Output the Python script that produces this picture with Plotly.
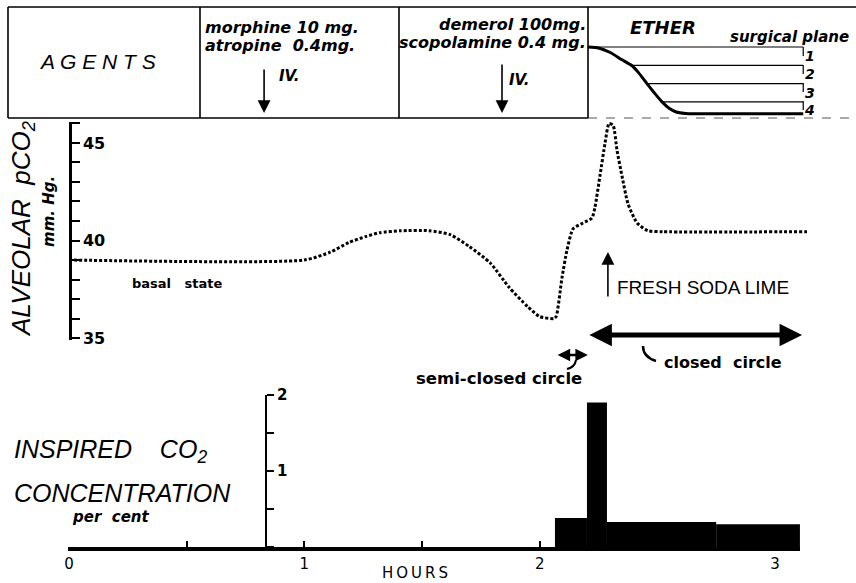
import plotly.graph_objects as go
import numpy as np

W, H = 856, 583
PXH = 235.33          # pixels per hour
X0 = 69               # pixel of hour 0


def PX(p):
    return p / W


def PY(p):
    return 1 - p / H


# ---------------- data ----------------
hours_pco2 = [0.0, 1.00, 1.11, 1.19, 1.26, 1.32, 1.41, 1.53, 1.62, 1.70, 1.79, 1.87,
              1.95, 2.00, 2.06, 2.07, 2.095, 2.116, 2.142, 2.184, 2.222, 2.235, 2.256,
              2.278, 2.295, 2.312, 2.329, 2.350, 2.375, 2.414, 2.460, 2.524, 3.136]
pco2_mmHg = [39.0, 39.0, 39.4, 39.9, 40.2, 40.4, 40.5, 40.5, 40.3, 39.7, 38.85, 37.6,
             36.6, 36.1, 36.0, 36.1, 38.1, 39.5, 40.6, 40.9, 41.15, 41.7, 43.3,
             45.0, 46.0, 45.9, 44.6, 43.3, 41.9, 40.9, 40.5, 40.45, 40.45]

bar_start_h = [2.065, 2.201, 2.286, 2.75]
bar_end_h = [2.201, 2.286, 2.75, 3.106]
inspired_co2_pct = [0.38, 1.9, 0.33, 0.30]

ether_hours = [2.205, 2.25, 2.30, 2.35, 2.39, 2.42, 2.456, 2.49, 2.52, 2.55, 2.58, 2.62, 2.66, 3.12]
ether_depth = [0, 0.05, 0.3, 0.7, 1.0, 1.4, 2.0, 2.55, 3.0, 3.35, 3.55, 3.63, 3.65, 3.65]
plane_bounds = [0, 1, 2, 3]
plane_labels = ["1", "2", "3", "4"]
plane_label_depth = [0.5, 1.5, 2.5, 3.45]

hour_ticks = [0, 1, 2, 3]
pco2_ticks = [35, 40, 45]
co2_ticks = [1, 2]

morphine_h = 0.829
demerol_h = 1.84
soda_lime_h = 2.29
semi_closed_h = [2.07, 2.205]
closed_h = [2.205, 3.115]

# ---------------- figure ----------------
fig = go.Figure()

fig.add_trace(go.Scatter(
    x=hours_pco2, y=pco2_mmHg, xaxis="x2", yaxis="y", mode="lines",
    line=dict(color="black", width=3, dash="3px,2px", shape="spline", smoothing=0.6),
    hoverinfo="skip"))

fig.add_trace(go.Bar(
    x=[(s + e) / 2 for s, e in zip(bar_start_h, bar_end_h)],
    width=[e - s for s, e in zip(bar_start_h, bar_end_h)],
    y=inspired_co2_pct, xaxis="x", yaxis="y2",
    marker=dict(color="black", line=dict(width=0)), hoverinfo="skip"))

fig.add_trace(go.Scatter(
    x=ether_hours, y=ether_depth, xaxis="x2", yaxis="y3", mode="lines",
    line=dict(color="black", width=3, shape="spline", smoothing=0.5),
    hoverinfo="skip"))

shapes = []
line_end_h = ether_hours[-1]
for d in plane_bounds:
    start = float(np.interp(d, ether_depth, ether_hours))
    shapes.append(dict(type="line", xref="x2", yref="y3", x0=start, x1=line_end_h,
                       y0=d, y1=d, line=dict(color="black", width=1.2)))
shapes.append(dict(type="line", xref="x2", yref="y3", x0=line_end_h, x1=line_end_h,
                   y0=0, y1=3.88, line=dict(color="black", width=1.2, dash="dash")))

# box of the agents panel
bl = dict(color="black", width=1.6)
shapes += [
    dict(type="line", xref="paper", yref="paper", x0=PX(8), x1=PX(856), y0=PY(7), y1=PY(7), line=bl),
    dict(type="line", xref="paper", yref="paper", x0=PX(8), x1=PX(588), y0=PY(118), y1=PY(118), line=bl),
    dict(type="line", xref="paper", yref="paper", x0=PX(588), x1=PX(856), y0=PY(118), y1=PY(118),
         line=dict(color="#555", width=1, dash="dash")),
]
for xv in [8, 200, 399, 588]:
    shapes.append(dict(type="line", xref="paper", yref="paper", x0=PX(xv), x1=PX(xv),
                       y0=PY(7), y1=PY(118), line=bl))

# small hooks
shapes.append(dict(type="path", xref="paper", yref="paper",
                   path=f"M {PX(643)} {PY(346)} Q {PX(643)} {PY(357)} {PX(656)} {PY(361)}",
                   line=dict(color="black", width=2.5)))
shapes.append(dict(type="path", xref="paper", yref="paper",
                   path=f"M {PX(576)} {PY(360)} Q {PX(575)} {PY(367)} {PX(567)} {PY(369)}",
                   line=dict(color="black", width=2)))

BI = "DejaVu Sans"
LS = "Liberation Sans"
ann = []


def txt(text, x, y, size, family=LS, xanchor="left", angle=0):
    ann.append(dict(text=text, x=PX(x), y=PY(y), xref="paper", yref="paper",
                    xanchor=xanchor, yanchor="middle", showarrow=False, textangle=angle,
                    font=dict(family=family, size=size, color="black")))


NB = "\u00a0"
txt("<i>A G E N T S</i>", 97, 61, 21, xanchor="center")
txt("<b><i>morphine 10 mg.</i></b>", 203, 28, 16, BI)
txt(f"<b><i>atropine{NB}{NB}0.4mg.</i></b>", 203, 45, 16, BI)
txt("<b><i>IV.</i></b>", 277, 76, 15, BI)
txt("<b><i>demerol 100mg.</i></b>", 588, 25, 16, BI, xanchor="right")
txt("<b><i>scopolamine 0.4 mg.</i></b>", 588, 43, 16, BI, xanchor="right")
txt("<b><i>IV.</i></b>", 507, 80, 15, BI)
txt("<b><i>ETHER</i></b>", 628, 28, 18, BI)
txt("<b><i>surgical plane</i></b>", 851, 37, 15, BI, xanchor="right")
for lab, d in zip(plane_labels, plane_label_depth):
    ann.append(dict(text=f"<b><i>{lab}</i></b>", x=3.148, xref="x2", y=d, yref="y3",
                    xanchor="center", yanchor="middle", showarrow=False,
                    font=dict(family=BI, size=14, color="black")))

txt(f"<i>ALVEOLAR{NB}{NB}pCO<sub>2</sub></i>", 22, 229, 26, xanchor="center", angle=-90)
txt("<b><i>mm. Hg.</i></b>", 49, 212, 15, BI, xanchor="center", angle=-90)
txt(f"<b>basal{NB}{NB}{NB}state</b>", 130, 283, 13, BI)
txt("FRESH SODA LIME", 615, 287, 19)
txt(f"<b>closed{NB}{NB}circle</b>", 662, 362, 16, BI)
txt("<b>semi-closed circle</b>", 414, 378, 16.5, BI)
txt(f"<i>INSPIRED{NB}{NB}{NB}{NB}CO<sub>2</sub></i>", 12, 451, 25)
txt("<i>CONCENTRATION</i>", 12, 493, 25)
txt(f"<b><i>per{NB}{NB}cent</i></b>", 70, 517, 15, BI)
txt("H\u2009O\u2009U\u2009R\u2009S", 415, 573, 15, BI, xanchor="center")

# arrows
for h, head, tail in [(morphine_h, 113, 68), (demerol_h, 113, 63)]:
    ann.append(dict(text="", x=h, xref="x2", y=PY(head), yref="paper", ax=0, ay=tail - head,
                    showarrow=True, arrowhead=2, arrowsize=1.6, arrowwidth=1.6, arrowcolor="black"))
ann.append(dict(text="", x=soda_lime_h, xref="x2", y=PY(252), yref="paper", ax=0, ay=46,
                showarrow=True, arrowhead=2, arrowsize=1.6, arrowwidth=1.6, arrowcolor="black"))
ann.append(dict(text="", x=closed_h[1], xref="x2", ax=closed_h[0], axref="x2",
                y=PY(335), yref="paper", ay=0, ayref="pixel",
                showarrow=True, arrowhead=2, arrowside="end+start", arrowsize=0.9,
                arrowwidth=5, arrowcolor="black"))
ann.append(dict(text="", x=semi_closed_h[1], xref="x2", ax=semi_closed_h[0], axref="x2",
                y=PY(355), yref="paper", ay=0, ayref="pixel",
                showarrow=True, arrowhead=2, arrowside="end+start", arrowsize=1.0,
                arrowwidth=2.5, arrowcolor="black"))

tickfont_b = dict(family=BI, size=16, color="black", weight="bold")

fig.update_layout(
    width=W, height=H, margin=dict(l=0, r=0, t=0, b=0),
    paper_bgcolor="white", plot_bgcolor="rgba(0,0,0,0)", showlegend=False,
    shapes=shapes, annotations=ann,
    xaxis=dict(domain=[PX(68), PX(800)], range=[-1 / PXH, 731 / PXH], anchor="y2",
               showgrid=False, zeroline=False, showline=True, linecolor="black", linewidth=4,
               tickvals=hour_ticks, ticks="inside", ticklen=6, tickwidth=1.5, tickcolor="black",
               minor=dict(dtick=0.5, tick0=0, ticks="inside", ticklen=6, tickwidth=1.5, tickcolor="black"),
               tickfont=dict(family=BI, size=15, color="black"),
               automargin=False, fixedrange=True),
    xaxis2=dict(domain=[0, 1], range=[-X0 / PXH, (W - X0) / PXH], anchor="y", visible=False,
                fixedrange=True),
    yaxis=dict(domain=[PY(340), PY(121.5)], range=[34.9, 46.1], anchor="free", position=PX(70),
               side="right", showgrid=False, zeroline=False, showline=True, linecolor="black",
               linewidth=2.5, tickvals=pco2_ticks, ticks="outside", ticklen=8, tickwidth=2,
               tickcolor="black",
               minor=dict(dtick=1, tick0=35, ticks="outside", ticklen=8, tickwidth=2, tickcolor="black"),
               tickfont=tickfont_b, automargin=False, fixedrange=True),
    yaxis2=dict(domain=[PY(547), PY(395)], range=[0, 2], anchor="free", position=PX(266),
                side="right", showgrid=False, zeroline=False, showline=True, linecolor="black",
                linewidth=2, tickvals=co2_ticks, ticks="outside", ticklen=7, tickwidth=1.5,
                tickcolor="black",
                minor=dict(dtick=0.5, tick0=0, ticks="outside", ticklen=7, tickwidth=1.5, tickcolor="black"),
                tickfont=dict(family=BI, size=15, color="black", weight="bold"),
                automargin=False, fixedrange=True),
    yaxis3=dict(domain=[PY(118), PY(7)], range=[3.88, -2.186], anchor="x2", visible=False,
                fixedrange=True),
)

fig.write_html("out.html", config={"displayModeBar": False},
               post_script="document.body.style.margin='0';document.body.style.overflow='hidden';")
